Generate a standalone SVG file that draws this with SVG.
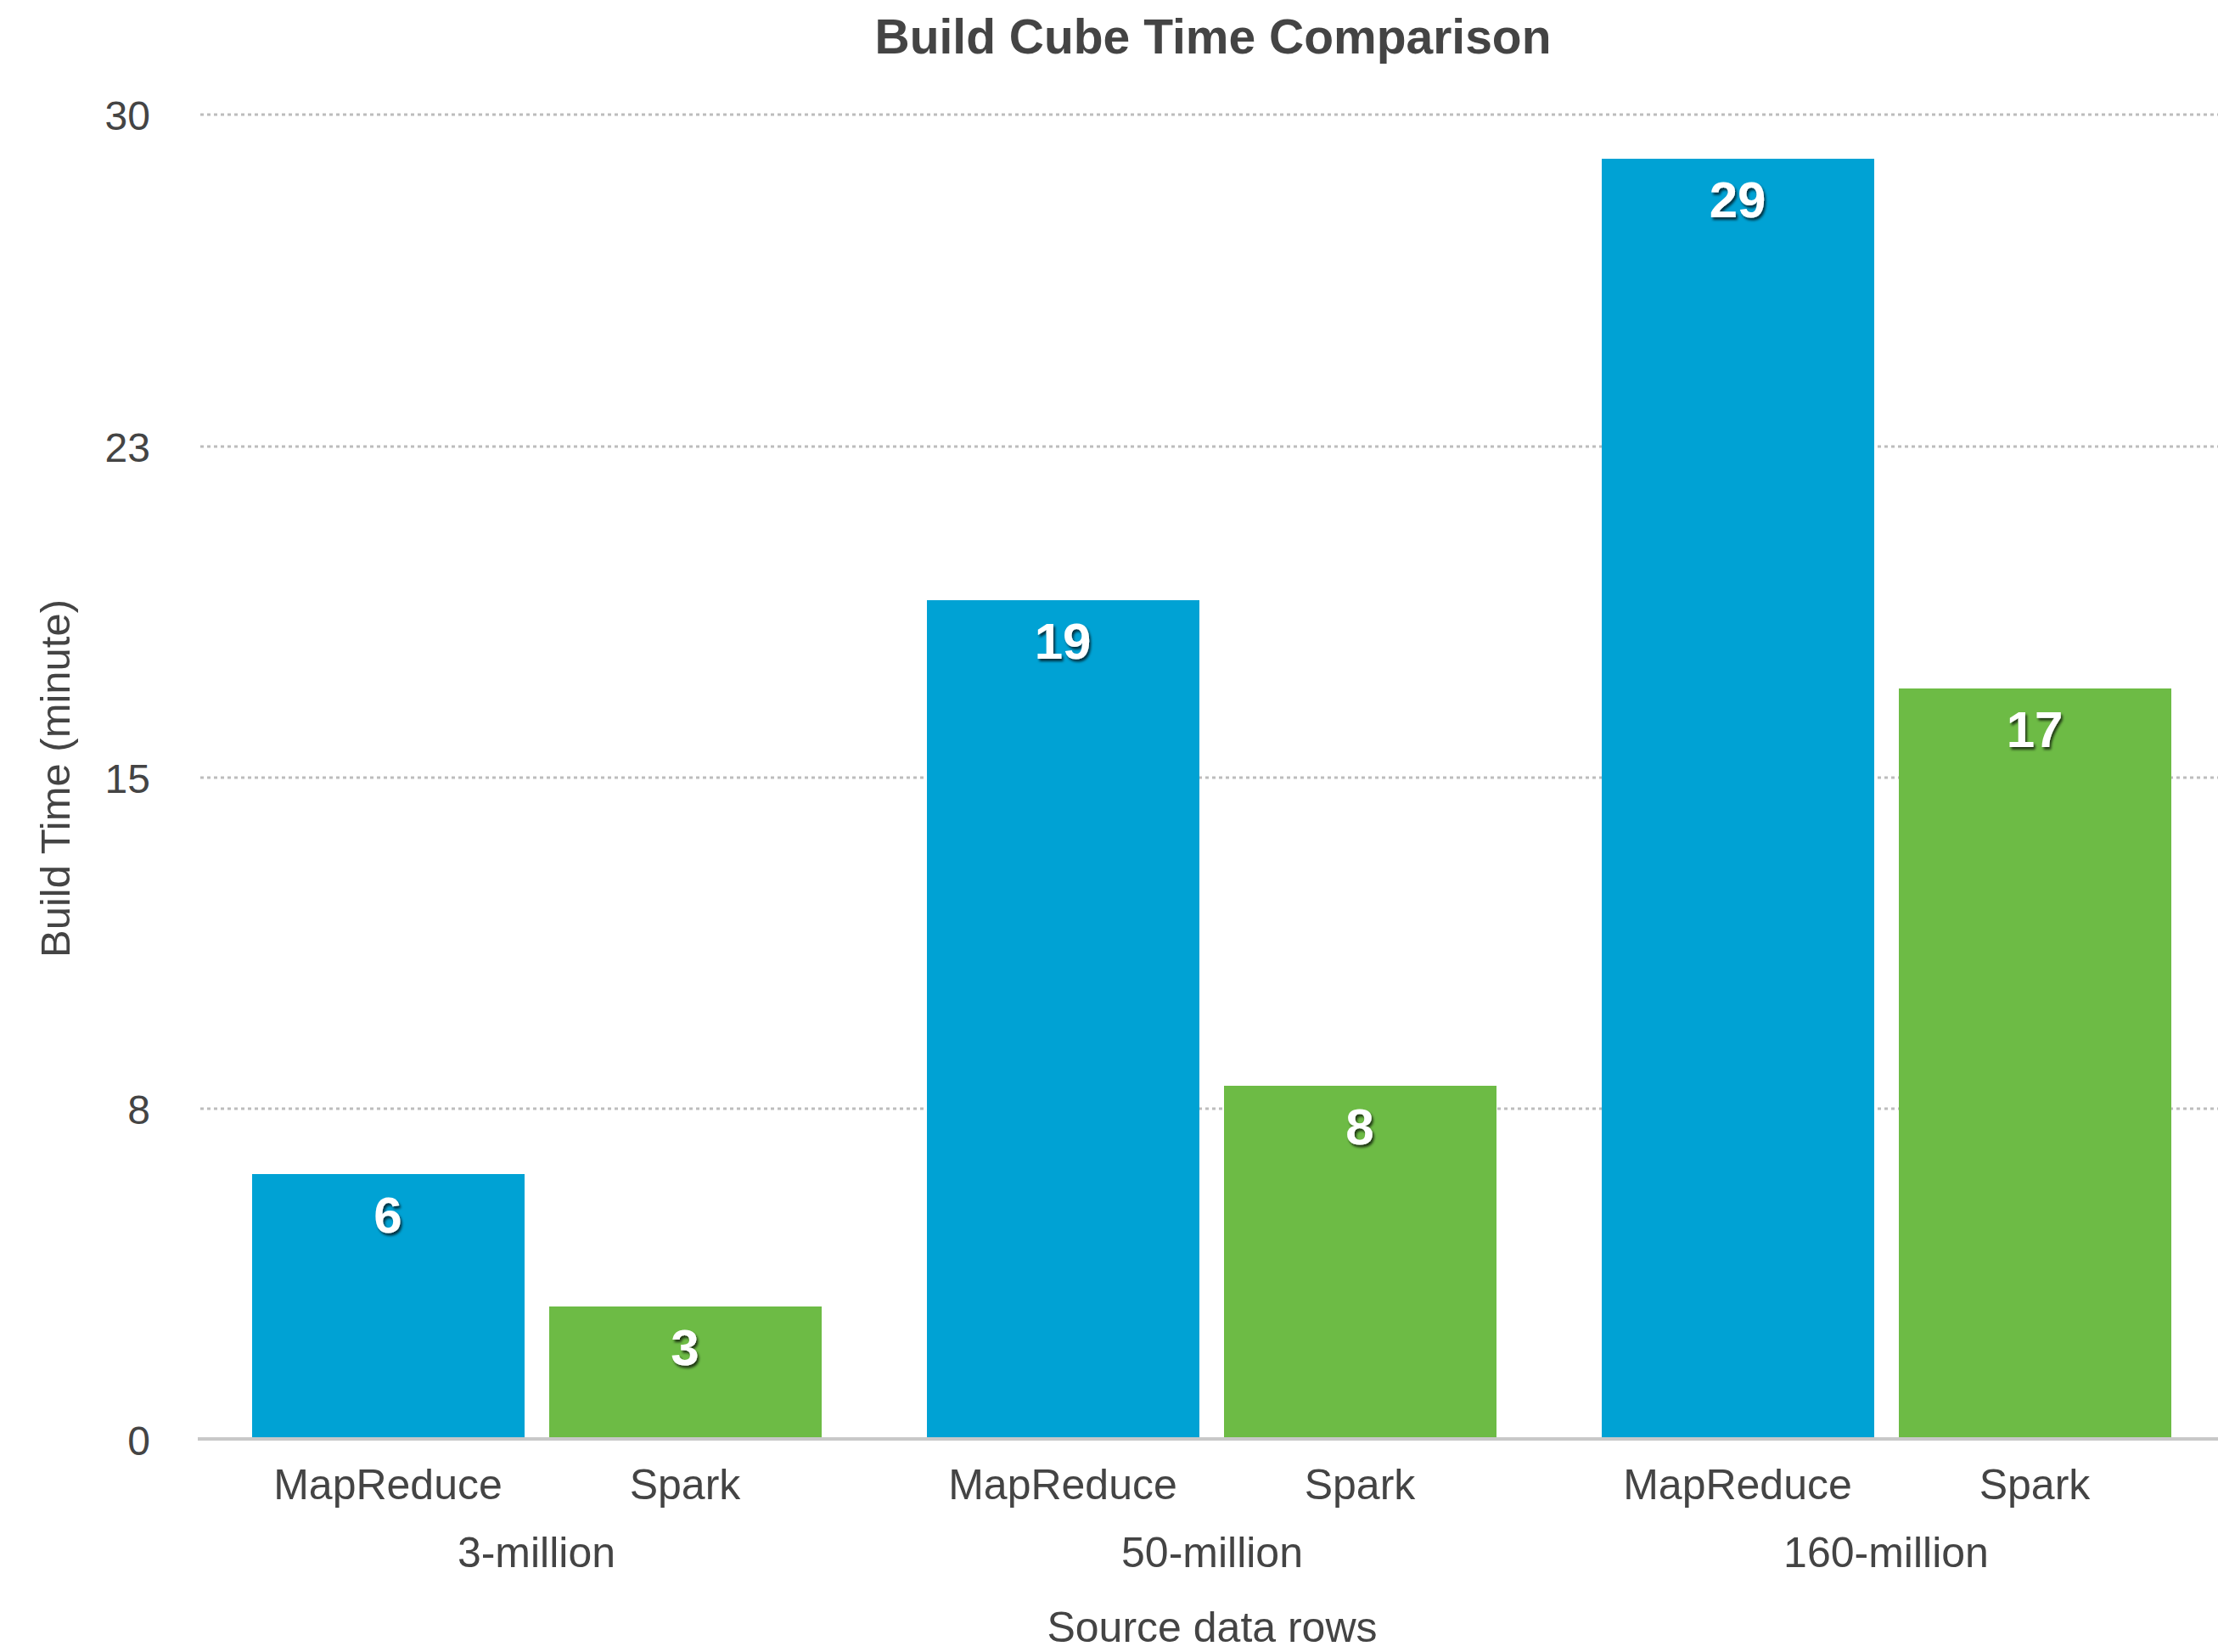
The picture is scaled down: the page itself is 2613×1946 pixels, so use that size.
<svg xmlns="http://www.w3.org/2000/svg" width="2613" height="1946" viewBox="0 0 2613 1946">
<style>
text{font-family:"Liberation Sans",Arial,Helvetica,sans-serif;fill:#444444}
.title{font-size:57px;font-weight:bold}
.tick{font-size:48px;text-anchor:end}
.cat{font-size:50px;text-anchor:middle}
.val{font-size:60px;font-weight:bold;fill:#ffffff;text-anchor:middle;filter:url(#sh)}
.grid{stroke:#bdbdbd;stroke-width:3;stroke-dasharray:4 4;fill:none}
.axis{stroke:#c8c8c8;stroke-width:4;fill:none}
.mr{fill:#00a2d4}
.sp{fill:#6dbb45}
</style>
<defs>
<filter id="sh" x="-30%" y="-30%" width="160%" height="160%">
<feDropShadow dx="2" dy="3" stdDeviation="1.5" flood-color="#000000" flood-opacity="0.7"/>
</filter>
</defs>
<rect width="2613" height="1946" fill="#ffffff"/>
<text class="title" x="1429" y="63" text-anchor="middle">Build Cube Time Comparison</text>
<g id="gridlines">
<line class="grid" x1="236" y1="135" x2="2613" y2="135"/>
<line class="grid" x1="236" y1="526" x2="2613" y2="526"/>
<line class="grid" x1="236" y1="916" x2="2613" y2="916"/>
<line class="grid" x1="236" y1="1306" x2="2613" y2="1306"/>
</g>
<g id="y-axis">
<text class="tick" x="177" y="153">30</text>
<text class="tick" x="177" y="544">23</text>
<text class="tick" x="177" y="934">15</text>
<text class="tick" x="177" y="1324">8</text>
<text class="tick" x="177" y="1714">0</text>
<text font-size="49" text-anchor="middle" transform="translate(82,917) rotate(-90)">Build Time (minute)</text>
</g>
<g id="bar-3m-mapreduce">
<rect class="mr" x="297" y="1383" width="321" height="312"/>
<text class="val" x="457" y="1452">6</text>
</g>
<g id="bar-3m-spark">
<rect class="sp" x="647" y="1539" width="321" height="156"/>
<text class="val" x="807" y="1608">3</text>
</g>
<g id="bar-50m-mapreduce">
<rect class="mr" x="1092" y="707" width="321" height="988"/>
<text class="val" x="1252" y="776">19</text>
</g>
<g id="bar-50m-spark">
<rect class="sp" x="1442" y="1279" width="321" height="416"/>
<text class="val" x="1602" y="1348">8</text>
</g>
<g id="bar-160m-mapreduce">
<rect class="mr" x="1887" y="187" width="321" height="1508"/>
<text class="val" x="2047" y="256">29</text>
</g>
<g id="bar-160m-spark">
<rect class="sp" x="2237" y="811" width="321" height="884"/>
<text class="val" x="2397" y="880">17</text>
</g>
<g id="connectors">
<line class="axis" x1="233" y1="1695" x2="2613" y2="1695"/>
</g>
<g id="x-axis">
<text class="cat" x="457" y="1766">MapReduce</text>
<text class="cat" x="807" y="1766">Spark</text>
<text class="cat" x="1252" y="1766">MapReduce</text>
<text class="cat" x="1602" y="1766">Spark</text>
<text class="cat" x="2047" y="1766">MapReduce</text>
<text class="cat" x="2397" y="1766">Spark</text>
<text class="cat" x="632" y="1846">3-million</text>
<text class="cat" x="1428" y="1846">50-million</text>
<text class="cat" x="2222" y="1846">160-million</text>
<text class="cat" x="1428" y="1934">Source data rows</text>
</g>
</svg>
